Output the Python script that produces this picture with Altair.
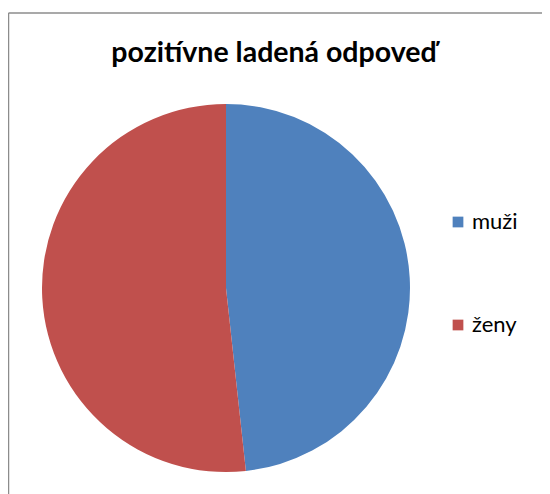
import altair as alt
import pandas as pd

categories = ["muži", "ženy"]
values = [14, 15]
colors = ["#4F81BD", "#C0504D"]
order = [1, 2]
title_text = "pozitívne ladená odpoveď"

df = pd.DataFrame({"kategoria": categories, "hodnota": values, "poradie": order})

W, H = 534, 406

pie = alt.Chart(df).mark_arc(stroke=None).encode(
    theta=alt.Theta("hodnota:Q", stack=True),
    order=alt.Order("poradie:Q"),
    color=alt.Color(
        "kategoria:N",
        scale=alt.Scale(domain=categories, range=colors),
        legend=alt.Legend(
            title=None,
            orient="none",
            legendX=439,
            legendY=123,
            symbolType="square",
            symbolSize=115,
            symbolStrokeWidth=0,
            labelFontSize=22,
            labelFont="Lato",
            labelColor="#000000",
            rowPadding=81,
            labelOffset=3,
        ),
    ),
    x=alt.value(218),
    y=alt.value(200),
    radius=alt.value(184),
)

frame_df = pd.DataFrame({"a": [0]})
top_rule = alt.Chart(frame_df).mark_rule(color="#8c8c8c", strokeWidth=1.5).encode(
    x=alt.value(0.5), x2=alt.value(541), y=alt.value(-75), y2=alt.value(-75)
)
left_rule = alt.Chart(frame_df).mark_rule(color="#8c8c8c", strokeWidth=1.5).encode(
    x=alt.value(0.5), x2=alt.value(0.5), y=alt.value(-75), y2=alt.value(410)
)
title = alt.Chart(frame_df).mark_text(
    text=title_text,
    font="Lato",
    fontSize=28.5,
    fontWeight="bold",
    color="#000000",
    align="center",
    baseline="alphabetic",
).encode(x=alt.value(266), y=alt.value(-26))

chart = alt.layer(top_rule, left_rule, title, pie).properties(
    width=W,
    height=H,
    padding={"left": 0, "top": 80, "right": 0, "bottom": 0},
    autosize=alt.AutoSizeParams(type="none"),
).configure_view(stroke=None)

chart.save("out.html", embed_options={"renderer": "svg", "actions": False})
